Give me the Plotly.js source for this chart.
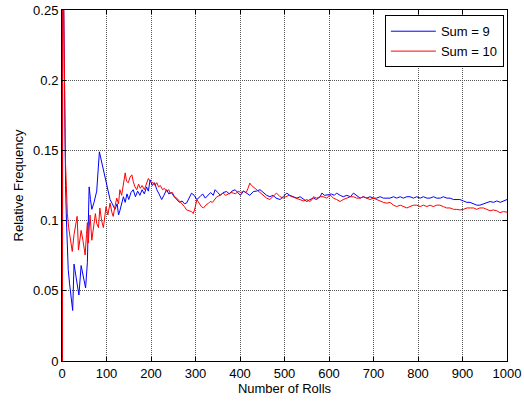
<!DOCTYPE html>
<html>
<head>
<meta charset="utf-8">
<script src="https://cdn.plot.ly/plotly-3.0.1.min.js"></script>
<style>html,body{margin:0;padding:0;background:#fff;}#chart{width:524px;height:402px;}</style>
</head>
<body>
<div id="chart"></div>
<script>
// Sum = 9 (blue)
const rolls9 = [1,2,3,4,5,6,7,8,10,12,14,17,20,24,27,30,34,38,43,47,50,53,57,61,64,67,72,78,84,90,95,99,104,108,113,119,124,127,130,134,138,142,146,150,155,160,165,170,175,180,185,190,194,198,203,208,213,218,224,229,235,240,246,252,258,264,270,275,280,285,291,297,303,310,316,322,328,334,340,344,350,356,362,370,376,382,389,395,401,408,415,422,430,437,445,452,460,467,474,481,490,497,505,512,520,528,535,543,550,557,565,572,580,584,590,598,605,612,617,625,632,640,648,655,662,670,677,685,692,700,707,715,722,730,737,745,752,760,767,775,782,790,797,805,812,820,827,835,842,850,857,865,872,880,887,894,902,910,917,925,932,939,947,955,962,970,977,985,992,1000];
const freq9 = [0,0.5,0.333,0.25,0.2,0.167,0.143,0.125,0.1,0.083,0.065,0.055,0.045,0.036,0.069,0.062,0.055,0.047,0.068,0.062,0.056,0.052,0.07,0.124,0.115,0.108,0.113,0.121,0.149,0.14,0.132,0.126,0.12,0.115,0.112,0.108,0.112,0.104,0.107,0.113,0.117,0.113,0.119,0.115,0.12,0.122,0.117,0.121,0.118,0.122,0.119,0.124,0.121,0.129,0.125,0.127,0.122,0.119,0.115,0.118,0.122,0.119,0.12,0.117,0.115,0.113,0.114,0.112,0.1125,0.116,0.1195,0.118,0.115,0.117,0.119,0.116,0.118,0.12,0.118,0.122,0.12,0.118,0.12,0.1207,0.119,0.121,0.122,0.12,0.118,0.121,0.1196,0.118,0.1207,0.121,0.122,0.12,0.118,0.117,0.118,0.116,0.115,0.117,0.1196,0.118,0.117,0.116,0.117,0.115,0.1136,0.115,0.116,0.115,0.117,0.1196,0.118,0.1184,0.119,0.118,0.1196,0.118,0.117,0.118,0.117,0.1196,0.118,0.116,0.117,0.116,0.117,0.116,0.116,0.117,0.116,0.116,0.116,0.117,0.116,0.117,0.116,0.117,0.117,0.116,0.117,0.116,0.117,0.116,0.116,0.117,0.116,0.116,0.117,0.116,0.116,0.115,0.115,0.115,0.114,0.113,0.113,0.112,0.111,0.111,0.112,0.113,0.1136,0.113,0.114,0.113,0.114,0.115];
// Sum = 10 (red)
const rolls10 = [1,2,3,4,5,6,7,8,9,10,12,15,18,20,23,27,31,34,37,40,43,47,50,52,55,57,59,63,67,71,75,78,82,85,89,93,96,99,103,108,112,115,119,123,127,130,134,138,142,145,149,153,157,160,164,168,172,176,180,185,190,194,198,201,205,209,213,217,221,226,230,235,240,243,248,253,258,265,270,275,280,285,291,295,299,303,308,313,318,323,328,333,338,343,348,355,362,368,374,380,385,390,396,402,408,414,418,422,426,430,434,440,446,452,460,467,474,482,490,497,503,510,517,525,535,543,550,557,562,565,572,580,587,595,602,610,617,625,632,640,648,655,662,670,677,685,692,700,707,715,722,730,737,745,752,760,767,775,782,790,797,805,812,820,827,834,842,849,857,864,872,880,887,894,902,910,917,925,932,939,947,955,962,969,977,984,992,1000];
const freq10 = [0,0.5,0.333,0.25,0.2,0.18,0.16,0.14,0.128,0.118,0.105,0.095,0.088,0.085,0.078,0.09,0.098,0.103,0.079,0.087,0.093,0.086,0.08,0.0755,0.09,0.0986,0.084,0.104,0.086,0.096,0.105,0.098,0.095,0.109,0.1,0.095,0.103,0.11,0.104,0.1125,0.106,0.103,0.11,0.116,0.112,0.122,0.118,0.126,0.134,0.128,0.127,0.131,0.1326,0.128,0.124,0.122,0.126,0.123,0.125,0.122,0.126,0.13,0.128,0.127,0.127,0.125,0.127,0.124,0.125,0.122,0.123,0.121,0.122,0.1195,0.12,0.117,0.116,0.1136,0.112,0.11,0.1076,0.107,0.1064,0.105,0.109,0.115,0.112,0.11,0.109,0.111,0.112,0.1136,0.113,0.115,0.117,0.118,0.1196,0.118,0.119,0.12,0.1196,0.119,0.121,0.12,0.121,0.12,0.123,0.1267,0.125,0.124,0.123,0.121,0.12,0.118,0.116,0.115,0.117,0.1196,0.117,0.116,0.117,0.118,0.117,0.116,0.115,0.114,0.115,0.1136,0.115,0.117,0.116,0.117,0.117,0.116,0.1184,0.116,0.115,0.1136,0.115,0.116,0.117,0.117,0.116,0.116,0.117,0.116,0.115,0.116,0.115,0.114,0.113,0.1124,0.113,0.111,0.11,0.111,0.11,0.109,0.11,0.111,0.111,0.11,0.111,0.11,0.111,0.11,0.111,0.111,0.11,0.109,0.109,0.108,0.108,0.1076,0.108,0.109,0.109,0.109,0.108,0.109,0.109,0.108,0.107,0.1076,0.107,0.1057,0.1064,0.106];
const seriesNames = ["Sum = 9", "Sum = 10"];
const xTicks = [0,100,200,300,400,500,600,700,800,900,1000];
const yTickVals = [0,0.05,0.1,0.15,0.2,0.25];
const yTickText = ["0","0.05","0.1","0.15","0.2","0.25"];

const traces = [
  {x: rolls9, y: freq9, name: seriesNames[0], type: 'scatter', mode: 'lines', line: {color: '#0000ff', width: 1}},
  {x: rolls10, y: freq10, name: seriesNames[1], type: 'scatter', mode: 'lines', line: {color: '#ff0000', width: 1}}
];
const FONT = 'Liberation Sans, Arial, sans-serif';
const axisCommon = {
  showline: true, linecolor: '#000', linewidth: 1, mirror: 'ticks',
  ticks: 'inside', ticklen: 4, tickcolor: '#000', tickwidth: 1,
  showgrid: true, gridcolor: '#555', griddash: '1px,1px', gridwidth: 1,
  zeroline: false, tickfont: {family: FONT, size: 13, color: '#000'}
};
const layout = {
  width: 524, height: 402,
  margin: {l: 62, r: 17, t: 10, b: 41},
  paper_bgcolor: '#fff', plot_bgcolor: '#fff',
  font: {family: FONT, size: 13, color: '#000'},
  xaxis: Object.assign({}, axisCommon, {range: [0, 1000], tickvals: xTicks, ticktext: xTicks.map(String),
    title: {text: 'Number of Rolls', standoff: 2, font: {size: 13}}}),
  yaxis: Object.assign({}, axisCommon, {range: [0, 0.25], tickvals: yTickVals, ticktext: yTickText,
    title: {text: 'Relative Frequency', standoff: 6, font: {size: 13}}}),
  showlegend: true,
  legend: {x: 0.993, xanchor: 'right', y: 0.985, yanchor: 'top', bgcolor: '#fff', bordercolor: '#000', borderwidth: 1,
    font: {size: 13}, tracegroupgap: 0, itemwidth: 45},
};
Plotly.newPlot('chart', traces, layout, {displayModeBar: false, staticPlot: true});
</script>
</body>
</html>
